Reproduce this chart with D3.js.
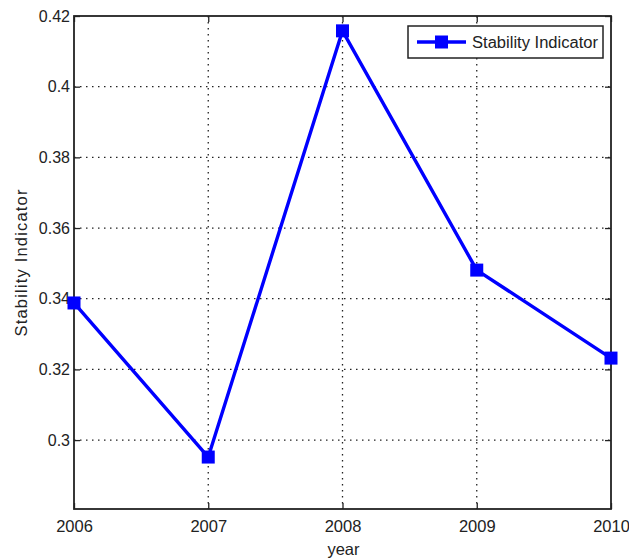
<!DOCTYPE html>
<html>
<head>
<meta charset="utf-8">
<script src="https://cdn.jsdelivr.net/npm/d3@7"></script>
<style>
  body { margin: 0; background: #fff; }
  svg { display: block; }
  text { font-family: "Liberation Sans", Arial, sans-serif; fill: #222; }
</style>
</head>
<body>
<script>
// Stability indicator per year
const years = [2006, 2007, 2008, 2009, 2010];
const stability = [0.3388, 0.2952, 0.4158, 0.3481, 0.3232];
const yTicks = [0.3, 0.32, 0.34, 0.36, 0.38, 0.4, 0.42];
const yTickLabels = ["0.3", "0.32", "0.34", "0.36", "0.38", "0.4", "0.42"];
const seriesName = "Stability Indicator";

const W = 629, H = 559;
const plot = { left: 74, right: 611, top: 16, bottom: 509 };

const svg = d3.select("body").append("svg").attr("width", W).attr("height", H);

const x = d3.scaleLinear().domain([2006, 2010]).range([plot.left, plot.right]);
const y = d3.scaleLinear().domain([0.2805, 0.42]).range([plot.bottom, plot.top]);

const gridStyle = sel => sel.attr("stroke", "#222").attr("stroke-width", 1.3)
  .attr("stroke-dasharray", "1.5,4.5");

// dotted grid
svg.append("g").selectAll("line").data(years.slice(1, -1)).join("line")
  .attr("x1", d => x(d)).attr("x2", d => x(d))
  .attr("y1", plot.top).attr("y2", plot.bottom).call(gridStyle);
svg.append("g").selectAll("line").data(yTicks.slice(0, -1)).join("line")
  .attr("x1", plot.left).attr("x2", plot.right)
  .attr("y1", d => y(d)).attr("y2", d => y(d)).call(gridStyle);

// axes (ticks point inward)
const tickLen = 6;
const yAxis = d3.axisLeft(y).tickValues(yTicks).tickSizeInner(-tickLen).tickSizeOuter(0)
  .tickFormat((d, i) => yTickLabels[i]).tickPadding(4);
svg.append("g").attr("transform", `translate(${plot.left},0)`).call(yAxis)
  .call(g => g.select(".domain").remove())
  .call(g => g.selectAll("text").style("font-size", "16px").attr("fill", "#222"));
svg.append("g").attr("transform", `translate(${plot.right},0)`)
  .call(d3.axisRight(y).tickValues(yTicks).tickSizeInner(-tickLen).tickSizeOuter(0).tickFormat(""))
  .call(g => g.select(".domain").remove());

const xAxis = d3.axisBottom(x).tickValues(years).tickSizeInner(-tickLen).tickSizeOuter(0)
  .tickFormat(d3.format("d")).tickPadding(11);
svg.append("g").attr("transform", `translate(0,${plot.bottom})`).call(xAxis)
  .call(g => g.select(".domain").remove())
  .call(g => g.selectAll("text").style("font-size", "16.5px").attr("fill", "#222"));
svg.append("g").attr("transform", `translate(0,${plot.top})`)
  .call(d3.axisTop(x).tickValues(years).tickSizeInner(-tickLen).tickSizeOuter(0).tickFormat(""))
  .call(g => g.select(".domain").remove());

svg.selectAll(".tick line").attr("stroke", "#222").attr("stroke-width", 1.3);

// box
svg.append("rect").attr("x", plot.left).attr("y", plot.top)
  .attr("width", plot.right - plot.left).attr("height", plot.bottom - plot.top)
  .attr("fill", "none").attr("stroke", "#222").attr("stroke-width", 1.8);

// series
const pts = years.map((yr, i) => [yr, stability[i]]);
svg.append("path").datum(pts)
  .attr("d", d3.line().x(d => x(d[0])).y(d => y(d[1])))
  .attr("fill", "none").attr("stroke", "#0000ff").attr("stroke-width", 3.4)
  .attr("stroke-linejoin", "round");
const ms = 13;
svg.append("g").selectAll("rect").data(pts).join("rect")
  .attr("x", d => x(d[0]) - ms / 2).attr("y", d => y(d[1]) - ms / 2)
  .attr("width", ms).attr("height", ms).attr("fill", "#0000ff");

// axis titles
svg.append("text").attr("x", (plot.left + plot.right) / 2 + 1).attr("y", 555)
  .attr("text-anchor", "middle").style("font-size", "16.5px").text("year");
svg.append("text").attr("transform", `translate(27,263) rotate(-90)`)
  .attr("text-anchor", "middle").style("font-size", "16.5px")
  .attr("textLength", 147).attr("lengthAdjust", "spacing").text("Stability Indicator");

// legend
const lg = svg.append("g");
lg.append("rect").attr("x", 408).attr("y", 26).attr("width", 195).attr("height", 32)
  .attr("fill", "#fff").attr("stroke", "#222").attr("stroke-width", 1.5);
lg.append("line").attr("x1", 417).attr("x2", 466).attr("y1", 42).attr("y2", 42)
  .attr("stroke", "#0000ff").attr("stroke-width", 3.4);
lg.append("rect").attr("x", 441.5 - ms / 2).attr("y", 42 - ms / 2).attr("width", ms).attr("height", ms)
  .attr("fill", "#0000ff");
lg.append("text").attr("x", 472).attr("y", 47.5).style("font-size", "16px")
  .attr("textLength", 126).attr("lengthAdjust", "spacingAndGlyphs").text(seriesName);
</script>
</body>
</html>
